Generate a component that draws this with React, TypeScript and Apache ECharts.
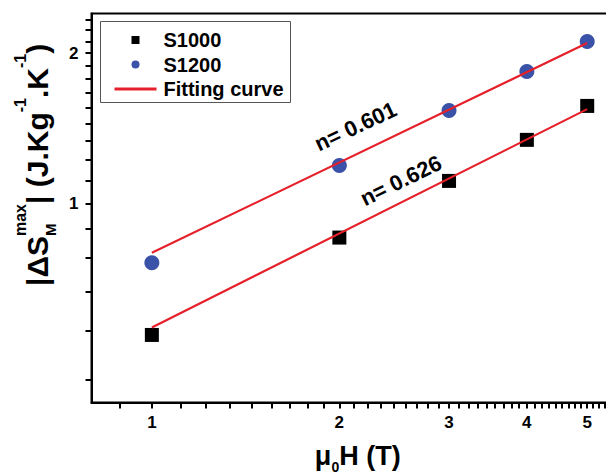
import React, { useEffect, useRef } from "react";
import * as echarts from "echarts";

// ---- data ----
const fields = [1, 2, 3, 4, 5]; // µ0H (T)
const s1000 = [0.546, 0.855, 1.11, 1.341, 1.568];
const s1200 = [0.761, 1.192, 1.535, 1.838, 2.11];
const fit1000X = [1, 5];
const fit1000Y = [0.565, 1.545];
const fit1200X = [1, 5];
const fit1200Y = [0.797, 2.095];
const xTickLabels = [1, 2, 3, 4, 5];
const yTickLabels = [1, 2];
const xRange = [0.8, 5.5];
const yRange = [0.4, 2.4];
const fitLabels = ["n= 0.601", "n= 0.626"];

const FONT = "'Liberation Sans', Arial, Helvetica, sans-serif";
const BLUE = "#3a52a8";
const RED = "#e6202a";

// Origin-style linear minor ticks (8 per unit interval), merged with the majors
function allTicks(min: number, max: number, majors: number[]): number[] {
  const out: number[] = [...majors];
  for (let m = Math.floor(min); m < Math.ceil(max); m++) {
    for (let k = 1; k < 9; k++) {
      const v = Math.round((m + k / 9) * 10000) / 10000;
      if (v > min && v < max) out.push(v);
    }
  }
  return out.sort((a, b) => a - b);
}

export default function App() {
  const ref = useRef<HTMLDivElement>(null);
  useEffect(() => {
    if (!ref.current) return;
    const chart = echarts.init(ref.current, undefined, { renderer: "svg" });
    const pair = (xs: number[], ys: number[]) => xs.map((x, i) => [x, ys[i]]);
    const labelFmt = (v: number) => String(Math.round(v * 1000) / 1000);

    chart.setOption({
      animation: false,
      backgroundColor: "#fff",
      grid: {
        left: 91.5,
        top: 13.5,
        right: -7,
        bottom: 72.5,
        show: true,
        borderColor: "#000",
        borderWidth: 2,
        containLabel: false,
        outerBoundsMode: "none",
      },
      legend: {
        orient: "vertical",
        left: 100.5,
        top: 21.5,
        data: [
          { name: "S1000", icon: "path://M0,0H8V8H0Z" },
          { name: "S1200", icon: "path://M4,0A4,4,0,1,1,4,8A4,4,0,1,1,4,0Z" },
          {
            name: "Fitting curve",
            lineStyle: { width: 3 },
            itemStyle: { color: "rgba(0,0,0,0)", borderWidth: 0, opacity: 0 },
          },
        ],
        symbolKeepAspect: true,
        itemWidth: 42,
        itemHeight: 8,
        itemGap: 4.5,
        padding: [8.5, 7, 3.5, 12.5],
        borderColor: "#555",
        borderWidth: 1,
        selectedMode: false,
        textStyle: {
          fontFamily: FONT,
          fontSize: 20,
          fontWeight: "bold",
          color: "#000",
          padding: [0, 0, 0, 2],
        },
      },
      xAxis: {
        type: "log",
        logBase: 10,
        min: xRange[0],
        max: xRange[1],
        position: "bottom",
        splitLine: { show: false },
        axisLine: { show: true, lineStyle: { color: "#000", width: 2 } },
        axisTick: {
          show: true,
          inside: false,
          length: 6,
          lineStyle: { color: "#000", width: 2 },
          customValues: allTicks(xRange[0], xRange[1], xTickLabels),
        },
        axisLabel: {
          show: true,
          customValues: xTickLabels,
          formatter: labelFmt,
          margin: 11,
          color: "#000",
          fontFamily: FONT,
          fontSize: 17,
          fontWeight: "bold",
        },
        name: "{a|μ}{sub|0}{a|H (T)}",
        nameLocation: "middle",
        nameGap: 34.5,
        nameTextStyle: {
          padding: [0, 0, 0, 11],
          rich: {
            a: { fontFamily: FONT, fontSize: 27, fontWeight: "bold", color: "#000", lineHeight: 30 },
            sub: { fontFamily: FONT, fontSize: 14, fontWeight: "bold", color: "#000", padding: [23, 0, 0, 0] },
          },
        },
      },
      yAxis: {
        type: "log",
        logBase: 10,
        min: yRange[0],
        max: yRange[1],
        position: "left",
        splitLine: { show: false },
        axisLine: { show: true, lineStyle: { color: "#000", width: 2 } },
        axisTick: {
          show: true,
          inside: false,
          length: 6,
          lineStyle: { color: "#000", width: 2 },
          customValues: allTicks(yRange[0], yRange[1], yTickLabels),
        },
        axisLabel: {
          show: true,
          customValues: yTickLabels,
          formatter: labelFmt,
          margin: 13,
          color: "#000",
          fontFamily: FONT,
          fontSize: 17,
          fontWeight: "bold",
        },
      },
      series: [
        {
          name: "S1000",
          type: "scatter",
          symbol: "rect",
          symbolSize: 14,
          itemStyle: { color: "#000", opacity: 1 },
          data: pair(fields, s1000),
        },
        {
          name: "S1200",
          type: "scatter",
          symbol: "circle",
          symbolSize: 15,
          itemStyle: { color: BLUE, opacity: 1 },
          data: pair(fields, s1200),
        },
        {
          name: "Fitting curve",
          type: "line",
          symbol: "none",
          lineStyle: { color: RED, width: 2.2 },
          itemStyle: { color: RED },
          data: pair(fit1000X, fit1000Y),
          z: 3,
        },
        {
          name: "Fitting curve",
          type: "line",
          symbol: "none",
          lineStyle: { color: RED, width: 2.2 },
          itemStyle: { color: RED },
          data: pair(fit1200X, fit1200Y),
          z: 3,
        },
      ],
      graphic: [
        {
          type: "group",
          x: 46,
          y: 286,
          rotation: Math.PI / 2,
          children: [
            {
              type: "text",
              x: 0,
              y: -9,
              style: {
                text: "{a||ΔS}{sup|max}{a|| (J.Kg}{sup|-1}{a|.K}{sup|-1}{a|)}",
                align: "left",
                verticalAlign: "middle",
                rich: {
                  a: { fontFamily: FONT, fontSize: 30, fontWeight: "bold", fill: "#000", lineHeight: 50 },
                  sup: { fontFamily: FONT, fontSize: 16, fontWeight: "bold", fill: "#000", lineHeight: 16, verticalAlign: "top" },
                },
              },
            },
            {
              type: "text",
              x: 50,
              y: 4,
              style: {
                text: "M",
                align: "left",
                verticalAlign: "middle",
                fontFamily: FONT,
                fontSize: 15,
                fontWeight: "bold",
                fill: "#000",
              },
            },
          ],
        },
        {
          type: "text",
          x: 355.5,
          y: 126.5,
          rotation: (25 * Math.PI) / 180,
          style: {
            text: fitLabels[0],
            align: "center",
            verticalAlign: "middle",
            fontFamily: FONT,
            fontSize: 22,
            fontWeight: "bold",
            fill: "#000",
          },
        },
        {
          type: "text",
          x: 401,
          y: 180.5,
          rotation: (26 * Math.PI) / 180,
          style: {
            text: fitLabels[1],
            align: "center",
            verticalAlign: "middle",
            fontFamily: FONT,
            fontSize: 22,
            fontWeight: "bold",
            fill: "#000",
          },
        },
      ],
    });
    return () => chart.dispose();
  }, []);
  return (
    <div
      ref={ref}
      style={{ position: "absolute", left: 0, top: 0, width: 606, height: 475, background: "#fff" }}
    />
  );
}
